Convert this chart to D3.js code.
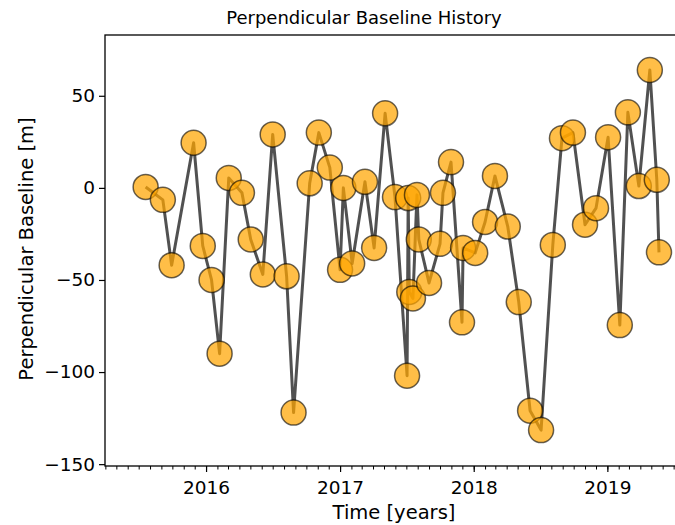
<!DOCTYPE html>
<html>
<head>
<meta charset="utf-8">
<script src="https://cdn.jsdelivr.net/npm/d3@7"></script>
<style>
  body { margin: 0; background: #fff; }
  text { font-family: "DejaVu Sans", sans-serif; fill: #000; }
</style>
</head>
<body>
<script>
// acquisition dates
var dates = [
  "2015-07-20", "2015-09-05", "2015-09-29", "2015-11-28", "2015-12-23",
  "2016-01-16", "2016-02-07", "2016-03-03", "2016-04-08", "2016-05-02",
  "2016-06-04", "2016-07-01", "2016-08-08", "2016-08-27", "2016-10-10",
  "2016-11-04", "2016-12-04", "2017-01-01", "2017-01-10", "2017-02-03",
  "2017-03-10", "2017-04-04", "2017-05-04", "2017-05-31", "2017-07-03",
  "2017-07-06", "2017-07-09", "2017-07-19", "2017-07-30", "2017-08-04",
  "2017-09-01", "2017-10-01", "2017-10-09", "2017-10-31", "2017-11-30",
  "2017-12-03", "2018-01-05", "2018-02-01", "2018-02-28", "2018-04-04",
  "2018-05-04", "2018-06-04", "2018-07-04", "2018-08-05", "2018-08-30",
  "2018-09-29", "2018-11-01", "2018-12-01", "2019-01-03", "2019-02-04",
  "2019-02-26", "2019-03-28", "2019-04-27", "2019-05-16", "2019-05-22"
];
// perpendicular baseline [m]
var baseline = [
  0.5, -6.5, -42, 24.5, -31.5,
  -50, -90, 5.4, -2.7, -28,
  -47, 29, -48, -122, 2.5,
  30, 11, -44.5, 0, -41,
  3.3, -32.6, 40.5, -5, -102,
  -5.5, -56.5, -60, -3.8, -28,
  -51.6, -30.4, -2.7, 14, -73,
  -32.6, -35.3, -18.5, 6.5, -21,
  -62, -121, -131.5, -31, 27,
  30, -20, -11, 27.5, -74.5,
  41, 1, 64, 4.4, -35
];
var yTicks = [50, 0, -50, -100, -150];
var xTicks = ["2016-01-01", "2017-01-01", "2018-01-01", "2019-01-01"];

var parse = d3.timeParse("%Y-%m-%d");
var data = dates.map(function(d, i){ return {t: parse(d), v: baseline[i]}; });

var W = 675, H = 525;
// plot box (right spine falls outside the picture, as in the original)
var pLeft = 105, pRight = 700, pTop = 35, pBottom = 466;

var svg = d3.select("body").append("svg").attr("width", W).attr("height", H);

var x = d3.scaleTime()
  .domain([parse("2015-03-31"), parse("2019-09-11")])
  .range([pLeft, pRight]);
var y = d3.scaleLinear().domain([-151, 83]).range([pBottom, pTop]);

// line first, then translucent markers on top
var line = d3.line().x(function(d){ return x(d.t); }).y(function(d){ return y(d.v); });
svg.append("path").datum(data)
  .attr("d", line)
  .attr("fill", "none")
  .attr("stroke", "#333")
  .attr("stroke-opacity", 0.85)
  .attr("stroke-width", 3)
  .attr("stroke-linejoin", "round");

svg.selectAll("circle.pt").data(data).enter().append("circle")
  .attr("class", "pt")
  .attr("cx", function(d){ return x(d.t); })
  .attr("cy", function(d){ return y(d.v); })
  .attr("r", 12.5)
  .attr("fill", "orange")
  .attr("fill-opacity", 0.72)
  .attr("stroke", "#000")
  .attr("stroke-opacity", 0.6)
  .attr("stroke-width", 1.5);

// spines
svg.append("rect").attr("x", pLeft).attr("y", pTop)
  .attr("width", pRight - pLeft).attr("height", pBottom - pTop)
  .attr("fill", "none").attr("stroke", "#000").attr("stroke-width", 1.3);

// y axis
var fmtY = function(v){ return v < 0 ? "\u2212" + Math.abs(v) : String(v); };
var yAxis = d3.axisLeft(y).tickValues(yTicks).tickFormat(fmtY).tickSize(6).tickPadding(4);
var gy = svg.append("g").attr("transform", "translate(" + pLeft + ",0)").call(yAxis);
gy.select(".domain").remove();
gy.selectAll("text").style("font-size", "18.5px").attr("font-family", "DejaVu Sans");
gy.selectAll("line").attr("stroke-width", 1.2);

// x axis: monthly minor ticks, yearly major ticks
var minor = d3.axisBottom(x).ticks(d3.timeMonth.every(1)).tickSize(3.5).tickFormat("");
var gm = svg.append("g").attr("transform", "translate(0," + pBottom + ")").call(minor);
gm.select(".domain").remove();
gm.selectAll("line").attr("stroke-width", 1);

var xAxis = d3.axisBottom(x).tickValues(xTicks.map(parse))
  .tickFormat(d3.timeFormat("%Y")).tickSize(6).tickPadding(9);
var gx = svg.append("g").attr("transform", "translate(0," + pBottom + ")").call(xAxis);
gx.select(".domain").remove();
gx.selectAll("text").style("font-size", "18.5px").attr("font-family", "DejaVu Sans");
gx.selectAll("line").attr("stroke-width", 1.2);

// labels
svg.append("text").attr("x", 364).attr("y", 24).attr("text-anchor", "middle")
  .style("font-size", "18px").text("Perpendicular Baseline History");
svg.append("text").attr("x", 394).attr("y", 519).attr("text-anchor", "middle")
  .style("font-size", "19.5px").text("Time [years]");
svg.append("text").attr("transform", "translate(33,249) rotate(-90)")
  .attr("text-anchor", "middle").style("font-size", "19.5px")
  .text("Perpendicular Baseline [m]");
</script>
</body>
</html>
